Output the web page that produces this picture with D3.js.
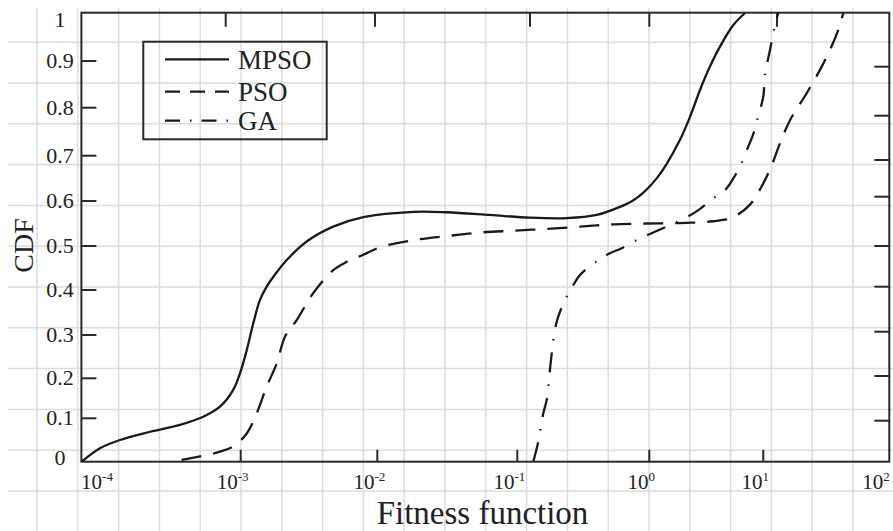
<!DOCTYPE html>
<html><head><meta charset="utf-8">
<script src="https://cdn.jsdelivr.net/npm/d3@7"></script>
<style>body{margin:0;background:#fff}svg{display:block}</style>
</head><body><svg id="c" width="893" height="531"></svg>
<script>
// ---- data ----
const decades = [1e-4, 1e-3, 1e-2, 1e-1, 1, 10, 100];
const xTickValues = [1e-4, 1e-3, 1e-2, 1e-1, 1, 10, 100];
const xTickExponents = ["-4", "-3", "-2", "-1", "0", "1", "2"];
const yTickValues = [0, 0.1, 0.2, 0.3, 0.4, 0.5, 0.6, 0.7, 0.8, 0.9, 1];
const yTickLabels = ["0", "0.1", "0.2", "0.3", "0.4", "0.5", "0.6", "0.7", "0.8", "0.9", "1"];
const xDomain = [6.7e-5, 100];
const seriesNames = ["MPSO", "PSO", "GA"];

const mpsoX = [6.73e-5, 9.18e-5, 1.29e-4, 2.15e-4, 3.57e-4, 5.30e-4, 7.03e-4, 8.81e-4, 9.89e-4, 1.107e-3, 1.236e-3, 1.384e-3, 1.549e-3, 1.734e-3, 2.173e-3, 3.04e-3, 4.76e-3, 7.91e-3, 0.0181, 0.0313, 0.0638, 0.1247, 0.2366, 0.399, 0.600, 0.752, 0.928, 1.161, 1.422, 1.858, 2.275, 2.786, 3.404, 4.169, 5.458, 6.918];
const mpsoY = [0, 0.031, 0.050, 0.069, 0.085, 0.104, 0.129, 0.171, 0.212, 0.265, 0.326, 0.378, 0.4075, 0.430, 0.468, 0.510, 0.543, 0.564, 0.576, 0.575, 0.569, 0.563, 0.562, 0.569, 0.587, 0.601, 0.622, 0.650, 0.682, 0.733, 0.781, 0.838, 0.888, 0.930, 0.975, 1.0];

const psoX = [3.67e-4, 5.01e-4, 7.03e-4, 8.81e-4, 1.107e-3, 1.309e-3, 1.549e-3, 1.837e-3, 2.109e-3, 2.570e-3, 3.396e-3, 4.76e-3, 5.97e-3, 7.90e-3, 0.01045, 0.0181, 0.0313, 0.0542, 0.0935, 0.167, 0.2985, 0.533, 0.955, 1.858, 3.622, 5.42, 7.64, 10, 11.67, 13.58, 16.29, 22.08, 28.18, 33.81, 39.36, 43.15];
const psoY = [0.004, 0.012, 0.023, 0.035, 0.065, 0.1125, 0.179, 0.235, 0.296, 0.333, 0.393, 0.445, 0.464, 0.480, 0.497, 0.513, 0.522, 0.530, 0.534, 0.538, 0.543, 0.548, 0.550, 0.551, 0.555, 0.564, 0.592, 0.639, 0.679, 0.726, 0.774, 0.831, 0.881, 0.923, 0.965, 1.0];

const gaX = [0.1321, 0.1442, 0.1574, 0.167, 0.1799, 0.1923, 0.2042, 0.2366, 0.263, 0.2985, 0.411, 0.498, 0.618, 0.851, 1.084, 1.422, 2.056, 2.636, 3.639, 4.613, 5.458, 6.237, 7.379, 8.166, 8.750, 10, 10.30, 11.30, 12.39, 13.15];
const gaY = [0, 0.046, 0.1125, 0.146, 0.242, 0.310, 0.341, 0.385, 0.409, 0.434, 0.468, 0.483, 0.495, 0.517, 0.530, 0.543, 0.562, 0.578, 0.606, 0.624, 0.650, 0.676, 0.719, 0.745, 0.771, 0.824, 0.870, 0.923, 0.975, 1.0];

// ---- layout ----
const svg = d3.select("#c");
const W = 893, H = 531;
const FONT = "'Liberation Serif','Times New Roman',serif";
const INK = "#222";

const x = d3.scaleLog().domain(decades).range([105, 240.7, 377.3, 517.3, 649.3, 763.3, 889.3]);
const xTop = d3.scaleLog().domain(decades).range([90, 225.7, 375, 530, 649.3, 777, 889.3]);
const y = d3.scaleLinear().domain(yTickValues).range([461.7, 418.3, 378.3, 335, 290, 246, 201, 155.7, 107.7, 61, 13]);
const yRight = d3.scaleLinear().domain(yTickValues).range([461.7, 420.7, 376, 331.7, 286.7, 246, 196.7, 160, 115.7, 66.7, 13]);

const pLeft = x(xDomain[0]), pRight = x(xDomain[1]);
const pTop = y(1) - 0.3, pBottom = y(0);

// background graph-paper grid
const gridG = svg.append("g").attr("stroke", "#dddddd").attr("stroke-width", 1.5);
d3.range(37, W, 40.8).forEach(gx => {
  gridG.append("line").attr("x1", gx).attr("x2", gx).attr("y1", 8).attr("y2", H);
});
d3.range(42.2, H, 40.8).forEach(gy => {
  gridG.append("line").attr("x1", 8).attr("x2", W).attr("y1", gy).attr("y2", gy);
});

// axes box
svg.append("rect").attr("x", pLeft).attr("y", pTop).attr("width", pRight - pLeft).attr("height", pBottom - pTop)
  .attr("fill", "none").attr("stroke", "#2a2a2a").attr("stroke-width", 2);

const tickG = svg.append("g").attr("stroke", "#2a2a2a").attr("stroke-width", 2);
xTickValues.slice(1, -1).forEach(v => {
  tickG.append("line").attr("x1", x(v)).attr("x2", x(v)).attr("y1", pBottom).attr("y2", pBottom - 12);
  tickG.append("line").attr("x1", xTop(v)).attr("x2", xTop(v)).attr("y1", pTop).attr("y2", pTop + 14);
});
yTickValues.slice(1, -1).forEach(v => {
  tickG.append("line").attr("x1", pLeft).attr("x2", pLeft + 15).attr("y1", y(v)).attr("y2", y(v));
  tickG.append("line").attr("x1", pRight).attr("x2", pRight - 15).attr("y1", yRight(v)).attr("y2", yRight(v));
});

// y tick labels
yTickValues.forEach((v, i) => {
  svg.append("text").attr("x", 60).attr("y", Math.min(Math.max(y(v) + 7, 27), 465))
    .attr("text-anchor", "middle").attr("font-family", FONT).attr("font-size", 22).attr("fill", INK)
    .text(yTickLabels[i]);
});

// x tick labels
xTickValues.forEach((v, i) => {
  const t = svg.append("text").attr("x", Math.min(x(v) - 8, 876)).attr("y", 489)
    .attr("text-anchor", "middle").attr("font-family", FONT).attr("font-size", 21).attr("fill", INK);
  t.append("tspan").text("10");
  t.append("tspan").attr("dy", -8).attr("font-size", 13).text(xTickExponents[i]);
});

// axis titles
svg.append("text").attr("transform", "translate(33,245.5) rotate(-90)")
  .attr("text-anchor", "middle").attr("font-family", FONT).attr("font-size", 28).attr("fill", INK).text("CDF");
svg.append("text").attr("x", 482.5).attr("y", 524)
  .attr("text-anchor", "middle").attr("font-family", FONT).attr("font-size", 33).attr("fill", INK).text("Fitness function");

// curves
svg.append("clipPath").attr("id", "clip").append("rect")
  .attr("x", pLeft).attr("y", pTop - 1).attr("width", pRight - pLeft).attr("height", pBottom - pTop + 1);
const line = d3.line().x(d => x(d[0])).y(d => y(d[1])).curve(d3.curveCatmullRom.alpha(0.5));
const series = [
  {xs: mpsoX, ys: mpsoY, dash: null, legendDash: null},
  {xs: psoX, ys: psoY, dash: "20,12", legendDash: "15,10"},
  {xs: gaX, ys: gaY, dash: "20,12,1.5,12", legendDash: "15,10,1.5,10"}
];
const curveG = svg.append("g").attr("clip-path", "url(#clip)");
series.forEach(s => {
  curveG.append("path").datum(s.xs.map((v, i) => [v, s.ys[i]]))
    .attr("d", line).attr("fill", "none").attr("stroke", "#1a1a1a").attr("stroke-width", 2.3)
    .attr("stroke-dasharray", s.dash);
});

// legend
const lg = svg.append("g");
lg.append("rect").attr("x", 143.3).attr("y", 41.7).attr("width", 183.4).attr("height", 97.6)
  .attr("fill", "none").attr("stroke", "#2a2a2a").attr("stroke-width", 2);
const rowsLine = [59.3, 91.7, 120.7], rowsText = [69.3, 100.7, 130];
series.forEach((s, i) => {
  lg.append("line").attr("x1", 165).attr("x2", 229).attr("y1", rowsLine[i]).attr("y2", rowsLine[i])
    .attr("stroke", "#1a1a1a").attr("stroke-width", 2.2).attr("stroke-dasharray", s.legendDash);
  lg.append("text").attr("x", 238).attr("y", rowsText[i]).attr("font-family", FONT).attr("font-size", 27)
    .attr("fill", INK).text(seriesNames[i]);
});
</script></body></html>
